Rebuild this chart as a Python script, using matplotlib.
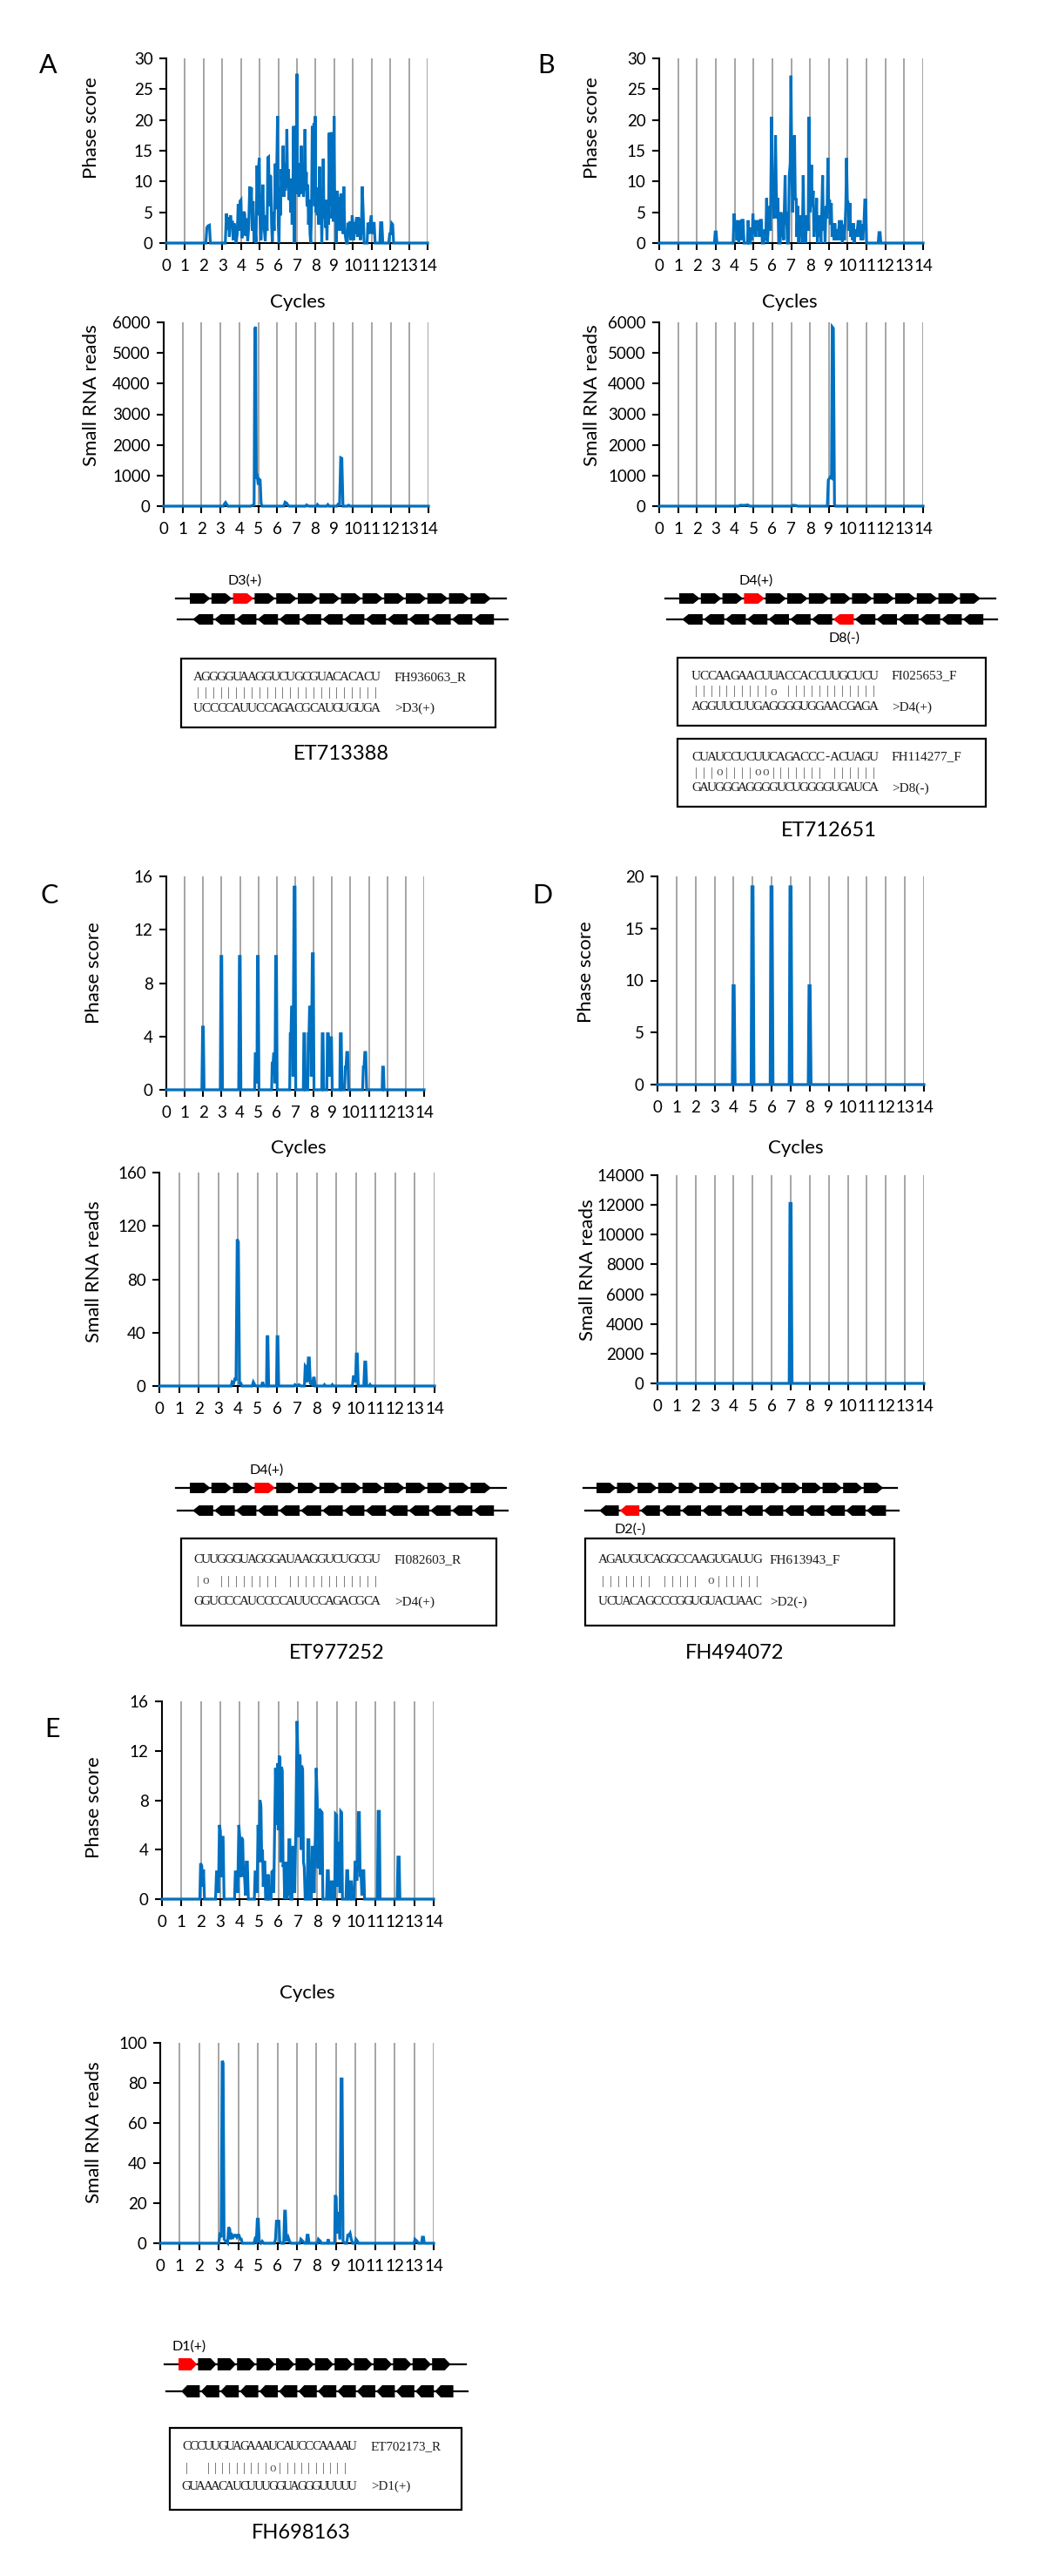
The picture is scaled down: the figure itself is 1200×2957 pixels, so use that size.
import numpy as np
import matplotlib
matplotlib.use('Agg')
import matplotlib.pyplot as plt
from matplotlib.patches import Polygon, Rectangle

# ---------------------------------------------------------------- data
x_ticks = list(range(15))

A_phase = [(0,0),(2.12,0),(2.17,2.5),(2.24,2.8),(2.31,2.9),(2.36,0),
 (3.16,0),(3.22,4.8),(3.28,2.2),(3.33,4.2),(3.38,1.0),(3.44,4.5),(3.49,2.8),(3.54,3.6),(3.58,0.5),(3.63,3.2),(3.69,2.4),(3.74,0),
 (3.8,1.5),(3.85,6.3),(3.9,2.0),(3.95,6.8),(4.0,7.0),(4.05,0.8),(4.1,2.2),(4.15,5.1),(4.2,4.8),(4.25,1.2),(4.31,4.0),(4.36,0.3),
 (4.41,2.5),(4.47,9.2),(4.52,5.5),(4.56,9.0),(4.6,2.0),(4.65,6.8),(4.7,0.2),(4.76,2.2),(4.81,0),
 (4.86,12.6),(4.9,4.5),(4.94,12.0),(4.98,13.8),(5.02,4.0),(5.07,0.5),(5.12,3.5),(5.17,9.5),(5.21,5.0),(5.25,2.2),(5.3,0.3),(5.35,4.5),(5.4,2.0),
 (5.44,13.9),(5.48,14.0),(5.52,6.0),(5.56,11.0),(5.6,10.8),(5.64,3.0),(5.68,0.2),(5.73,5.0),(5.78,2.0),
 (5.84,12.9),(5.88,5.5),(5.92,12.5),(5.96,20.6),(6.0,3.0),(6.04,0),(6.08,9.0),(6.12,4.5),(6.16,12.0),(6.21,8.0),(6.26,15.8),(6.3,7.5),
 (6.34,13.0),(6.38,8.5),(6.42,11.0),(6.46,18.5),(6.5,9.0),(6.54,12.0),(6.58,7.0),(6.62,10.5),(6.66,5.0),(6.7,9.0),(6.74,3.0),(6.78,8.0),
 (6.82,19.0),(6.86,0),(6.9,17.0),(6.94,19.0),(6.97,8.0),(7.0,27.5),(7.03,10.0),(7.07,13.0),(7.11,7.5),(7.15,11.0),(7.19,8.0),(7.23,15.8),
 (7.27,9.0),(7.31,12.0),(7.35,7.5),(7.39,10.5),(7.43,18.5),(7.47,8.5),(7.5,11.5),(7.54,6.0),(7.58,9.5),(7.62,3.0),(7.66,7.0),(7.7,1.5),
 (7.74,0),(7.78,5.0),(7.82,19.0),(7.87,12.0),(7.91,19.5),(7.95,6.0),(7.98,20.6),(8.01,5.0),(8.05,9.0),(8.09,4.5),(8.13,8.5),(8.17,3.0),
 (8.21,12.4),(8.25,5.0),(8.29,8.0),(8.33,0),(8.37,6.0),(8.41,13.7),(8.45,4.0),(8.49,7.0),(8.53,2.5),(8.57,5.0),(8.61,0.5),(8.65,7.0),
 (8.69,3.0),(8.73,17.9),(8.78,6.0),(8.83,18.0),(8.87,4.0),(8.91,8.5),(8.95,3.5),(8.99,20.6),(9.03,4.0),(9.07,8.0),(9.11,0),(9.15,8.5),
 (9.19,3.0),(9.23,7.5),(9.27,2.0),(9.31,4.0),(9.35,8.0),(9.39,2.0),(9.43,5.0),(9.47,1.5),(9.51,9.2),(9.55,3.5),(9.6,1.0),(9.65,0),
 (9.7,0),(9.75,3.3),(9.8,1.0),(9.84,3.5),(9.88,0.5),(9.92,2.0),(9.96,4.5),(10.0,3.0),(10.04,0.5),(10.08,3.3),(10.12,1.5),(10.16,3.3),
 (10.2,4.2),(10.24,1.0),(10.28,4.2),(10.32,3.0),(10.36,4.0),(10.4,0.5),(10.45,2.0),(10.5,9.2),(10.55,5.0),(10.6,0),
 (10.76,0),(10.8,3.3),(10.86,1.5),(10.92,3.0),(10.98,4.5),(11.03,1.5),(11.08,3.2),(11.14,3.2),(11.19,0),
 (11.44,0),(11.48,3.3),(11.55,3.3),(11.6,0),(11.92,0),(11.97,1.5),(12.03,1.5),(12.08,3.2),(12.13,3.0),(12.18,0),(14,0)]

A_reads = [(0,0),(3.15,0),(3.22,80),(3.27,120),(3.33,60),(3.4,0),(4.6,0),(4.7,30),(4.78,40),(4.82,5800),(4.86,5850),
 (4.9,900),(4.95,950),(5.0,700),(5.05,880),(5.1,850),(5.15,100),(5.2,0),(6.35,0),(6.42,130),(6.5,100),(6.58,20),(6.65,0),
 (7.5,0),(7.56,40),(7.62,10),(7.7,0),(8.08,0),(8.13,50),(8.2,0),(8.62,0),(8.68,50),(8.75,0),(9.15,0),(9.22,60),(9.3,40),
 (9.36,1580),(9.42,1560),(9.48,0),(9.72,0),(9.78,30),(9.85,0),(14,0)]

B_phase = [(0,0),(2.93,0),(2.97,1.8),(3.02,1.8),(3.06,0),(3.92,0),(3.97,4.8),(4.02,2.0),(4.07,3.7),(4.12,0.5),(4.17,3.7),
 (4.22,0),(4.28,3.7),(4.33,0.5),(4.39,3.7),(4.45,3.7),(4.5,0),(4.68,0),(4.72,3.7),(4.77,0),(4.84,0),(4.88,2.5),(4.93,0.5),
 (4.97,4.8),(5.02,1.5),(5.07,3.7),(5.12,1.0),(5.17,3.7),(5.22,2.0),(5.27,3.7),(5.32,1.0),(5.37,3.7),(5.42,3.7),(5.47,0),
 (5.55,0),(5.6,2.2),(5.65,0.5),(5.7,7.3),(5.74,0),(5.8,3.0),(5.86,6.0),(5.9,2.0),(5.96,20.5),(6.0,8.0),(6.04,11.0),(6.08,4.0),
 (6.13,10.0),(6.17,17.5),(6.21,9.0),(6.25,4.0),(6.3,7.3),(6.34,0),(6.42,0),(6.46,5.0),(6.5,1.0),(6.55,4.5),(6.6,0.5),(6.64,6.0),
 (6.68,11.0),(6.72,3.0),(6.76,5.0),(6.8,0),(6.86,0),(6.9,11.0),(6.95,13.0),(6.99,27.2),(7.04,11.0),(7.08,5.0),(7.13,11.0),
 (7.18,17.5),(7.22,7.0),(7.27,7.3),(7.3,1.0),(7.35,6.0),(7.4,0),(7.45,4.5),(7.5,1.0),(7.54,4.5),(7.59,0),(7.64,11.0),(7.68,3.0),
 (7.72,4.5),(7.76,0),(7.81,3.0),(7.86,4.5),(7.9,2.0),(7.95,20.5),(7.99,5.0),(8.03,6.0),(8.08,12.7),(8.12,6.0),(8.17,8.5),
 (8.21,1.0),(8.25,5.0),(8.3,2.0),(8.35,7.3),(8.39,0),(8.44,4.5),(8.49,1.0),(8.53,4.5),(8.58,0),(8.62,4.5),(8.67,11.0),(8.71,2.0),
 (8.76,4.5),(8.8,0),(8.85,6.0),(8.9,4.0),(8.95,13.8),(9.0,5.0),(9.04,7.0),(9.08,3.0),(9.13,6.5),(9.17,1.0),(9.22,3.2),(9.27,0.5),
 (9.32,3.2),(9.37,0.5),(9.42,2.2),(9.47,0.5),(9.52,2.2),(9.57,3.7),(9.62,0.5),(9.67,3.7),(9.72,0),(9.78,3.0),(9.83,0.5),
 (9.9,6.0),(9.94,13.8),(9.98,7.0),(10.03,6.5),(10.07,2.0),(10.12,6.5),(10.16,1.0),(10.21,3.2),(10.26,0.5),(10.31,3.2),(10.35,0),
 (10.41,2.2),(10.46,1.0),(10.51,2.2),(10.56,3.7),(10.61,1.0),(10.66,3.7),(10.7,0.5),(10.76,3.1),(10.8,0.5),(10.86,3.1),
 (10.91,7.0),(10.96,7.0),(11.0,0),(11.62,0),(11.66,1.7),(11.72,1.7),(11.76,0),(14,0)]

B_reads = [(0,0),(4.2,0),(4.3,30),(4.5,25),(4.7,40),(4.8,0),(7.0,0),(7.1,30),(7.25,20),(7.35,0),(8.92,0),(8.97,850),
 (9.02,900),(9.08,950),(9.14,920),(9.18,5850),(9.24,5800),(9.3,60),(9.36,0),(14,0)]

C_phase = [(0,0),(1.93,0),(1.97,4.7),(2.01,4.7),(2.05,0),(2.93,0),(2.97,10.0),(3.01,10.0),(3.05,0),(3.93,0),(3.97,10.0),
 (4.01,10.0),(4.05,0),(4.8,0),(4.83,2.7),(4.87,2.7),(4.92,0.5),(4.95,10.0),(4.99,10.0),(5.03,0),(5.72,0),(5.75,2.0),(5.8,2.0),
 (5.83,2.7),(5.87,2.7),(5.9,0.5),(5.94,10.0),(5.98,10.0),(6.02,0),(6.7,0),(6.73,4.2),(6.77,4.2),(6.8,6.2),(6.85,6.2),(6.88,1.0),
 (6.94,15.2),(6.99,15.2),(7.03,0),(7.44,0),(7.47,4.2),(7.51,4.2),(7.55,0),(7.68,0),(7.71,4.2),(7.75,4.2),(7.78,6.2),(7.83,6.2),
 (7.87,1.0),(7.93,10.2),(7.98,10.2),(8.02,0),(8.44,0),(8.47,4.2),(8.51,4.2),(8.55,0),(8.72,0),(8.75,4.2),(8.8,4.2),(8.84,2.8),
 (8.88,1.0),(8.93,3.9),(8.97,3.9),(9.01,0),(9.42,0),(9.45,4.2),(9.5,4.2),(9.54,0),(9.68,0),(9.72,1.7),(9.76,1.7),(9.8,2.8),
 (9.85,2.8),(9.9,0),(10.66,0),(10.7,1.7),(10.74,1.7),(10.78,2.8),(10.83,2.8),(10.88,0),(11.72,0),(11.75,1.7),(11.79,1.7),
 (11.83,0),(14,0)]

C_reads = [(0,0),(3.65,0),(3.7,3),(3.78,2),(3.85,6),(3.9,4),(3.96,110),(4.02,108),(4.08,2),(4.15,2),(4.2,0),(4.72,0),(4.78,3),
 (4.85,1),(4.92,0),(5.2,0),(5.25,3),(5.32,0),(5.45,0),(5.48,37),(5.52,37),(5.56,0),(5.96,0),(5.99,37),(6.03,37),(6.07,0),
 (6.85,0),(6.9,1),(7.0,0),(7.1,1),(7.2,0),(7.38,0),(7.42,15),(7.47,14),(7.52,3),(7.58,21),(7.63,21),(7.68,2),(7.78,1),
 (7.84,6),(7.88,6),(7.93,0),(8.35,0),(8.4,1),(8.45,0),(8.75,0),(8.8,1),(8.85,0),(9.82,0),(9.87,7),(9.93,7),(9.98,3),
 (10.02,24),(10.07,24),(10.12,0),(10.4,0),(10.45,18),(10.5,18),(10.55,0),(10.68,0),(10.72,1),(10.76,0),(14,0)]

D_phase = [(0,0),(3.93,0),(3.97,9.5),(4.03,9.5),(4.08,0),(4.92,0),(4.96,19),(5.02,19),(5.07,0),(5.92,0),(5.96,19),
 (6.02,19),(6.07,0),(6.92,0),(6.96,19),(7.02,19),(7.07,0),(7.92,0),(7.96,9.5),(8.02,9.5),(8.07,0),(14,0)]

D_reads = [(0,0),(6.92,0),(6.96,12100),(7.02,12100),(7.07,0),(14,0)]

E_phase = [(0,0),(1.95,0),(1.99,2.9),(2.05,2.7),(2.1,1.0),(2.14,2.4),(2.19,0),
 (2.76,0),(2.81,2.2),(2.86,2.2),(2.91,0.5),(2.96,6.0),(3.01,5.5),(3.05,1.8),(3.1,5.0),(3.15,5.0),(3.2,0),
 (3.74,0),(3.78,2.2),(3.84,2.2),(3.9,0.5),(3.96,6.0),(4.01,5.0),(4.05,1.8),(4.1,5.0),(4.16,4.8),(4.2,1.8),(4.25,2.0),
 (4.3,0.3),(4.34,3.0),(4.4,3.0),(4.45,0),(4.76,0),(4.8,2.2),(4.86,2.2),(4.9,0.5),(4.95,6.0),(5.0,3.0),(5.05,8.0),(5.1,7.5),
 (5.14,3.0),(5.18,4.0),(5.22,1.0),(5.26,3.0),(5.3,3.0),(5.34,0),(5.42,0),(5.47,2.0),(5.52,0),(5.62,0),(5.66,2.2),(5.72,2.3),
 (5.76,0.5),(5.8,5.0),(5.85,10.6),(5.9,6.0),(5.95,11.0),(5.99,5.6),(6.04,11.6),(6.08,11.4),(6.12,3.0),(6.16,10.7),(6.2,10.4),
 (6.24,2.6),(6.28,3.0),(6.32,0),(6.38,3.0),(6.44,0),(6.5,0.5),(6.54,4.8),(6.59,4.8),(6.63,0),(6.7,0),(6.74,4.2),(6.8,4.2),
 (6.84,0.5),(6.9,6.0),(6.96,14.4),(7.0,12.0),(7.04,5.0),(7.08,11.7),(7.12,11.5),(7.16,4.0),(7.2,10.8),(7.25,10.5),(7.29,3.0),
 (7.33,2.6),(7.38,0),(7.48,0),(7.52,4.8),(7.57,4.8),(7.61,0),(7.7,0),(7.74,4.2),(7.8,4.2),(7.84,0.5),(7.9,5.0),(7.95,10.6),
 (8.0,8.0),(8.04,2.5),(8.08,7.3),(8.12,7.0),(8.16,2.0),(8.2,7.1),(8.25,7.0),(8.29,0),(8.48,0),(8.52,2.3),(8.57,2.3),(8.61,0),
 (8.69,0),(8.73,1.4),(8.78,1.4),(8.82,0),(8.9,0),(8.94,6.9),(9.0,6.8),(9.04,1.0),(9.08,4.5),(9.13,4.5),(9.17,0.5),(9.21,7.1),
 (9.26,7.0),(9.3,0),(9.48,0),(9.52,2.3),(9.57,2.3),(9.61,0),(9.68,0),(9.72,1.4),(9.76,1.4),(9.8,0),(9.9,0),(9.95,3.0),
 (10.0,3.0),(10.04,1.5),(10.08,3.0),(10.12,7.0),(10.17,7.0),(10.21,1.9),(10.26,1.9),(10.3,0.3),(10.34,2.3),(10.4,2.3),
 (10.44,0),(11.1,0),(11.14,7.1),(11.2,7.1),(11.24,0),(12.12,0),(12.16,3.4),(12.22,3.4),(12.26,0),(14,0)]

E_reads = [(0,0),(3.0,0),(3.05,4),(3.12,3),(3.17,91),(3.22,90),(3.27,2),(3.35,1),(3.45,0),(3.5,8),(3.56,7),(3.6,2),(3.68,4),
 (3.74,3),(3.8,4),(3.86,4),(3.92,3),(3.97,4),(4.03,4),(4.1,2),(4.15,2),(4.2,0),(4.8,0),(4.85,2),(4.92,1),(4.97,12),(5.02,12),
 (5.07,1),(5.15,0),(5.22,1),(5.3,0),(5.85,0),(5.9,2),(5.95,11),(6.08,11),(6.12,1),(6.2,0),(6.32,0),(6.37,16),(6.41,16),
 (6.46,1),(6.55,3),(6.62,1),(6.7,0),(7.15,0),(7.2,2),(7.3,1),(7.38,0),(7.48,0),(7.52,4),(7.57,4),(7.62,0),(8.05,0),(8.1,2),
 (8.2,1),(8.25,0),(8.55,0),(8.6,2),(8.65,0),(8.93,0),(8.96,24),(9.01,23),(9.05,5),(9.1,15),(9.15,15),(9.2,2),(9.26,82),
 (9.31,82),(9.36,1),(9.45,0),(9.55,0),(9.6,4),(9.66,4),(9.72,5),(9.78,2),(9.85,0),(9.98,0),(10.02,2),(10.1,1),(10.15,0),
 (13.0,0),(13.04,2),(13.15,1),(13.22,0),(13.38,0),(13.42,3),(13.48,3),(13.52,0),(14,0)]

# y-axis scales (max, step)
A_phase_y, A_reads_y = (30, 5), (6000, 1000)
B_phase_y, B_reads_y = (30, 5), (6000, 1000)
C_phase_y, C_reads_y = (16, 4), (160, 40)
D_phase_y, D_reads_y = (20, 5), (14000, 2000)
E_phase_y, E_reads_y = (16, 4), (100, 20)

# phased-unit diagrams: 14 units per strand, highlighted unit index (None = none)
n_units = 14
A_units = {'top': 2, 'bot': None, 'top_label': 'D3(+)', 'bot_label': None}
B_units = {'top': 3, 'bot': 7, 'top_label': 'D4(+)', 'bot_label': 'D8(-)'}
C_units = {'top': 3, 'bot': None, 'top_label': 'D4(+)', 'bot_label': None}
D_units = {'top': None, 'bot': 1, 'top_label': None, 'bot_label': 'D2(-)'}
E_units = {'top': 0, 'bot': None, 'top_label': 'D1(+)', 'bot_label': None}

# target alignments (miRNA / phasiRNA)
A_aln = [("AGGGGUAAGGUCUGCGUACACACU", "||||||||||||||||||||||||", "UCCCCAUUCCAGACGCAUGUGUGA", "FH936063_R", ">D3(+)")]
B_aln = [("UCCAAGAACUUACCACCUUGCUCU", "||||||||||o ||||||||||||", "AGGUUCUUGAGGGGUGGAACGAGA", "FI025653_F", ">D4(+)"),
         ("CUAUCCUCUUCAGACCC-ACUAGU", "|||o||||oo||||||| ||||||", "GAUGGGAGGGGUCUGGGGUGAUCA", "FH114277_F", ">D8(-)")]
C_aln = [("CUUGGGUAGGGAUAAGGUCUGCGU", "|o |||||||| ||||||||||||", "GGUCCCAUCCCCAUUCCAGACGCA", "FI082603_R", ">D4(+)")]
D_aln = [("AGAUGUCAGGCCAAGUGAUUG", "||||||| ||||| o||||||", "UCUACAGCCCGGUGUACUAAC", "FH613943_F", ">D2(-)")]
E_aln = [("CCCUUGUAGAAAUCAUCCCAAAAU", "|  |||||||||o|||||||||| ", "GUAAACAUCUUUGGUAGGGUUUUU", "ET702173_R", ">D1(+)")]

titles = ["ET713388", "ET712651", "ET977252", "FH494072", "FH698163"]
panel_letters = ["A", "B", "C", "D", "E"]

# ---------------------------------------------------------------- style
W, H, DPI = 1200, 2957, 100
plt.rcParams['font.family'] = ['Lato', 'DejaVu Sans']
BLUE = '#0070C0'
GRID = '#969696'
RED = '#FF0000'
SERIF = ['Liberation Serif', 'DejaVu Serif']

fig = plt.figure(figsize=(W / DPI, H / DPI), dpi=DPI)
fig.patch.set_facecolor('white')

ov = fig.add_axes([0, 0, 1, 1])
ov.set_xlim(0, W)
ov.set_ylim(H, 0)
ov.axis('off')


def add_ax(x0, y0, x1, y1):
    return fig.add_axes([x0 / W, 1 - y1 / H, (x1 - x0) / W, (y1 - y0) / H])


def chart(box, series, yscale, ylabel, ylab_xy, xlabel_xy=None):
    x0, y0, x1, y1 = box
    ax = add_ax(*box)
    xs, ys = zip(*series)
    ymax, ystep = yscale
    ax.plot(xs, ys, color=BLUE, lw=2.3, clip_on=False, zorder=3, solid_joinstyle='miter')
    ax.set_xlim(0, 14)
    ax.set_ylim(0, ymax)
    ax.set_xticks(x_ticks)
    ax.set_xticklabels([str(t) for t in x_ticks])
    yt = list(range(0, ymax + 1, ystep))
    ax.set_yticks(yt)
    ax.set_yticklabels([str(t) for t in yt])
    ax.grid(axis='x', color=GRID, lw=1.2)
    ax.set_axisbelow(True)
    ax.patch.set_alpha(0)
    for s in ['top', 'right']:
        ax.spines[s].set_visible(False)
    for s in ['left', 'bottom']:
        ax.spines[s].set_linewidth(1.5)
    ax.tick_params(axis='both', length=6, width=1.5, labelsize=13.5, pad=5, colors='black')
    ax.tick_params(axis='x', pad=7)
    ax.set_ylabel(ylabel, fontsize=16, va='center')
    ax.yaxis.set_label_coords((ylab_xy[0] - x0) / (x1 - x0), (y1 - ylab_xy[1]) / (y1 - y0))
    if xlabel_xy is not None:
        ax.set_xlabel('Cycles', fontsize=16, va='center')
        ax.xaxis.set_label_coords((xlabel_xy[0] - x0) / (x1 - x0), (y1 - xlabel_xy[1]) / (y1 - y0))
    return ax


def strand(y, x_start, L, h, direction, red_idx, overhang, label, label_dy):
    ov.plot([x_start - overhang, x_start + n_units * L + overhang], [y, y], color='black', lw=1.6, zorder=1)
    tip = L * 0.3
    gap = 1.2
    for i in range(n_units):
        xa = x_start + i * L
        xb = xa + L - gap
        if direction > 0:
            pts = [(xa, y - h / 2), (xb - tip, y - h / 2), (xb, y), (xb - tip, y + h / 2), (xa, y + h / 2)]
        else:
            pts = [(xa + gap, y), (xa + gap + tip, y - h / 2), (xb + gap, y - h / 2), (xb + gap, y + h / 2), (xa + gap + tip, y + h / 2)]
        ov.add_patch(Polygon(pts, closed=True, fc=RED if i == red_idx else 'black', ec='none', zorder=2))
    if label is not None and red_idx is not None:
        ov.text(x_start + (red_idx + 0.55) * L, y + label_dy, label, fontsize=11.5, ha='center', va='center')


def diagram(units, y_top, y_bot, x_start, L, h, overhang, bot_shift=2):
    strand(y_top, x_start, L, h, +1, units['top'], overhang, units['top_label'], -20)
    strand(y_bot, x_start + bot_shift, L, h, -1, units['bot'], overhang, units['bot_label'], 22)


def align_box(aln, box, seq_x, pitch, id_x, fs, row_off=(0.27, 0.5, 0.73)):
    bx0, by0, bx1, by1 = box
    ov.add_patch(Rectangle((bx0, by0), bx1 - bx0, by1 - by0, fill=False, ec='black', lw=1.6, zorder=2))
    top, mid, bot, id1, id2 = aln
    rows = [by0 + f * (by1 - by0) for f in row_off]
    for ry, s, col in zip(rows, (top, mid, bot), ('#1a1a1a', '#555555', '#1a1a1a')):
        for i, ch in enumerate(s):
            if ch == ' ':
                continue
            ov.text(seq_x + (i + 0.5) * pitch, ry, ch, ha='center', va='center', fontsize=fs,
                    family=SERIF, color=col)
    ov.text(id_x, rows[0], id1, ha='left', va='center', fontsize=fs, family=SERIF, color='#1a1a1a')
    ov.text(id_x, rows[2], id2, ha='left', va='center', fontsize=fs, family=SERIF, color='#1a1a1a')


# ---------------------------------------------------------------- panel A
chart((191, 67, 491, 279), A_phase, A_phase_y, 'Phase score', (105, 147), (342, 347))
chart((188, 370, 492, 581), A_reads, A_reads_y, 'Small RNA reads', (105, 454))
diagram(A_units, 687, 711, 218, 24.8, 12, 16)
align_box(A_aln[0], (208, 756, 569, 835), 223, 8.85, 453, 11)
ov.text(392, 865, titles[0], fontsize=17, ha='center', va='center')
ov.text(55, 75, panel_letters[0], fontsize=22, ha='center', va='center')

# ---------------------------------------------------------------- panel B
chart((757, 67, 1060, 279), B_phase, B_phase_y, 'Phase score', (680, 147), (907, 347))
chart((757, 370, 1060, 581), B_reads, B_reads_y, 'Small RNA reads', (680, 454))
diagram(B_units, 687, 711, 780, 24.8, 12, 16)
align_box(B_aln[0], (778, 755, 1132, 833), 795, 8.85, 1024, 11)
align_box(B_aln[1], (778, 848, 1132, 926), 795, 8.85, 1024, 11)
ov.text(952, 953, titles[1], fontsize=17, ha='center', va='center')
ov.text(627, 75, panel_letters[1], fontsize=22, ha='center', va='center')

# ---------------------------------------------------------------- panel C
chart((191, 1006, 487, 1251), C_phase, C_phase_y, 'Phase score', (108, 1117), (343, 1318))
chart((183, 1346, 499, 1591), C_reads, C_reads_y, 'Small RNA reads', (108, 1460))
diagram(C_units, 1708, 1734, 218, 24.8, 12, 16)
align_box(C_aln[0], (208, 1766, 570, 1866), 223, 8.85, 453, 11, (0.25, 0.49, 0.73))
ov.text(387, 1897, titles[2], fontsize=17, ha='center', va='center')
ov.text(57, 1028, panel_letters[2], fontsize=22, ha='center', va='center')

# ---------------------------------------------------------------- panel D
chart((755, 1006, 1061, 1245), D_phase, D_phase_y, 'Phase score', (673, 1116), (914, 1318))
chart((755, 1349, 1061, 1588), D_reads, D_reads_y, 'Small RNA reads', (675, 1458))
diagram(D_units, 1708, 1734, 685, 23.6, 12, 15)
align_box(D_aln[0], (672, 1766, 1027, 1866), 688, 8.85, 884, 11, (0.25, 0.49, 0.73))
ov.text(844, 1897, titles[3], fontsize=17, ha='center', va='center')
ov.text(623, 1028, panel_letters[3], fontsize=22, ha='center', va='center')

# ---------------------------------------------------------------- panel E
chart((186, 1953, 498, 2180), E_phase, E_phase_y, 'Phase score', (108, 2075), (353, 2288))
chart((184, 2345, 498, 2575), E_reads, E_reads_y, 'Small RNA reads', (108, 2448))
diagram(E_units, 2714, 2745, 205, 22.4, 14, 16)
align_box(E_aln[0], (195, 2787, 530, 2881), 210, 8.27, 426, 10.8, (0.23, 0.49, 0.72))
ov.text(346, 2907, titles[4], fontsize=17, ha='center', va='center')
ov.text(60, 1985, panel_letters[4], fontsize=22, ha='center', va='center')

fig.savefig('out.png', dpi=DPI, facecolor='white')
